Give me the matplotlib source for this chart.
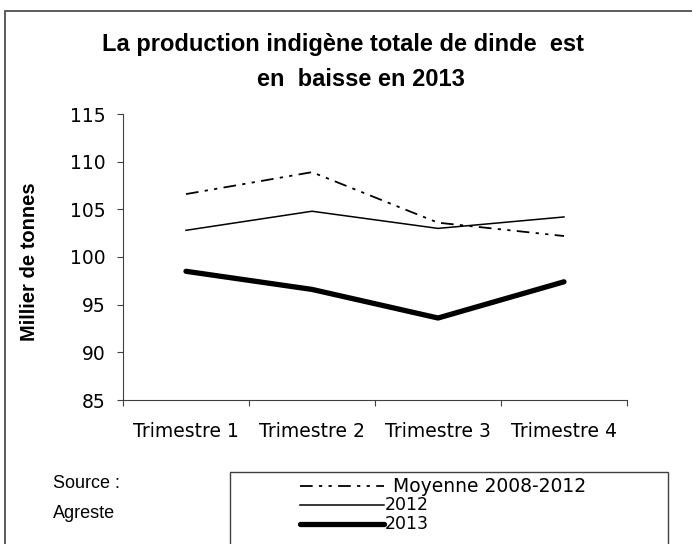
import matplotlib
matplotlib.use("Agg")
import matplotlib.pyplot as plt
from matplotlib.lines import Line2D
from matplotlib.patches import Rectangle

plt.rcParams['font.family'] = ['Liberation Sans', 'DejaVu Sans']

categories = ["Trimestre 1", "Trimestre 2", "Trimestre 3", "Trimestre 4"]
moyenne = [106.6, 108.9, 103.6, 102.2]
s2012 = [102.8, 104.8, 103.0, 104.2]
s2013 = [98.5, 96.6, 93.6, 97.4]
yticks = [85, 90, 95, 100, 105, 110, 115]

W, H = 692, 544
fig = plt.figure(figsize=(W / 100, H / 100), dpi=100)

def fx(px):
    return px / W

def fy(py):
    return 1 - py / H

tickfont = dict(family=['DejaVu Sans'], size=13.5)

# outer frame
fig.patches.append(Rectangle((fx(5), fy(560)), fx(720), fy(11) - fy(560),
                             transform=fig.transFigure, fill=False,
                             edgecolor='#404040', linewidth=1.2))

ax = fig.add_axes([fx(123), fy(400), fx(627) - fx(123), fy(114) - fy(400)])
x = [0.5, 1.5, 2.5, 3.5]
dash = (0, (7, 3.5, 1.8, 3.5, 1.8, 3.5))
ax.plot(x, moyenne, color='black', linewidth=1.3, linestyle=dash)
ax.plot(x, s2012, color='black', linewidth=1.1)
ax.plot(x, s2013, color='black', linewidth=3.8, solid_capstyle='round')

ax.set_xlim(0, 4)
ax.set_ylim(85, 115)
ax.set_yticks(yticks)
ax.set_yticklabels([str(v) for v in yticks], fontdict=tickfont)
ax.set_xticks([0, 1, 2, 3, 4])
ax.set_xticklabels([])
ax.set_xticks(x, minor=True)
ax.set_xticklabels(categories, minor=True, fontdict=tickfont)
ax.tick_params(axis='x', which='minor', length=0, pad=16)
ax.tick_params(axis='x', which='major', length=4, direction='out', width=0.8, color='#404040')
ax.tick_params(axis='y', length=4.3, direction='out', width=0.8, color='#404040', pad=8.5)
for s in ['top', 'right']:
    ax.spines[s].set_visible(False)
for s in ['left', 'bottom']:
    ax.spines[s].set_color('#404040')
    ax.spines[s].set_linewidth(0.8)

fig.text(fx(30), fy(262), "Millier de tonnes", rotation=90, ha='center', va='center',
         fontsize=14.5, fontweight='bold')

fig.text(fx(343), fy(45), "La production indigène totale de dinde  est",
         ha='center', va='center', fontsize=17, fontweight='bold')
fig.text(fx(361), fy(80), "en  baisse en 2013",
         ha='center', va='center', fontsize=17, fontweight='bold')

fig.text(fx(53), fy(483), "Source :", ha='left', va='center', fontsize=13)
fig.text(fx(53), fy(513), "Agreste", ha='left', va='center', fontsize=13)

# legend box
fig.patches.append(Rectangle((fx(230), fy(560)), fx(668) - fx(230), fy(472) - fy(560),
                             transform=fig.transFigure, fill=False,
                             edgecolor='#404040', linewidth=1.0))
labels = ["Moyenne 2008-2012", "2012", "2013"]
ys = [486, 505, 524]
styles = [dict(linewidth=1.3, linestyle=dash),
          dict(linewidth=1.1),
          dict(linewidth=3.8, solid_capstyle='round')]
for lab, yy, st in zip(labels, ys, styles):
    fig.lines.append(Line2D([fx(300), fx(384)], [fy(yy), fy(yy)],
                            transform=fig.transFigure, color='black', **st))
    fig.text(fx(385 if lab != labels[0] else 393), fy(yy), lab, ha='left', va='center',
             family=['DejaVu Sans'], fontsize=12.5 if lab != labels[0] else 13.5)

fig.savefig("out.png", dpi=100)
